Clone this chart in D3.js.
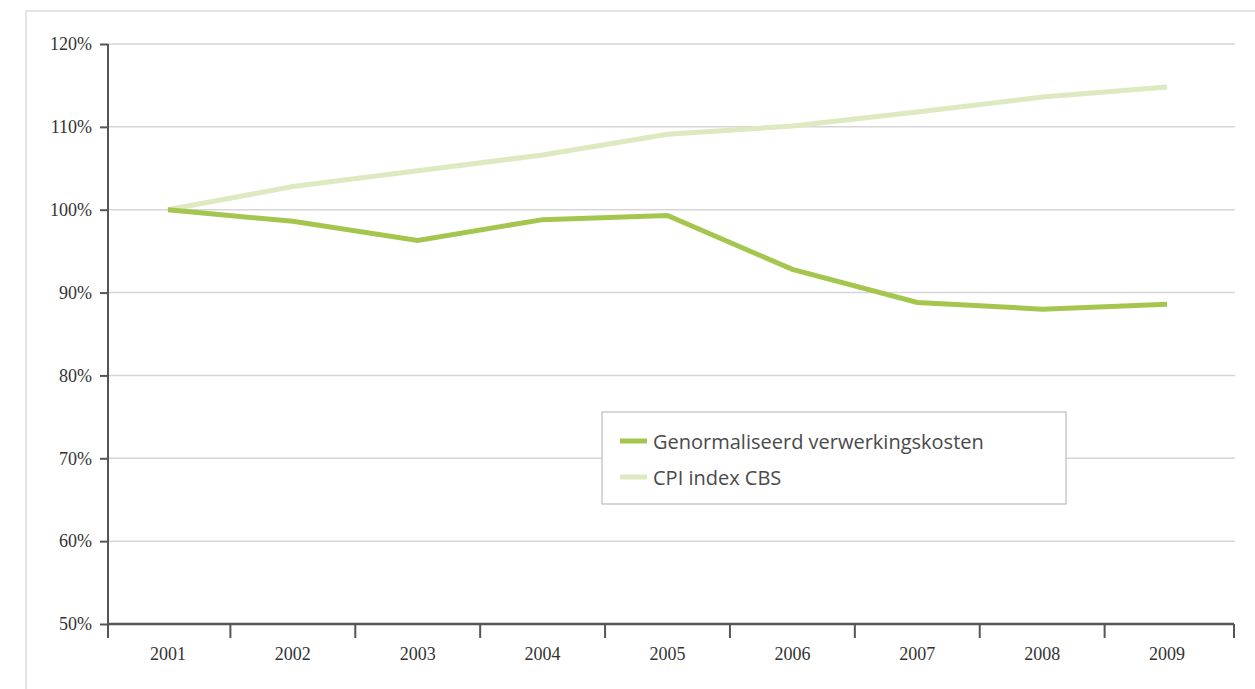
<!DOCTYPE html>
<html>
<head>
<meta charset="utf-8">
<script src="https://cdn.jsdelivr.net/npm/d3@7"></script>
<style>
  html, body { margin: 0; padding: 0; background: #fff; }
  svg { display: block; }
</style>
</head>
<body>
<svg id="chart" width="1255" height="689"></svg>
<script>
// Years on the x axis
const years = ["2001", "2002", "2003", "2004", "2005", "2006", "2007", "2008", "2009"];
// Normalised processing costs, index 2001 = 100%
const verwerkingskosten = [100, 98.6, 96.3, 98.8, 99.3, 92.8, 88.8, 88.0, 88.6];
// CPI index CBS, 2001 = 100%
const cpiIndex = [100, 102.8, 104.7, 106.6, 109.1, 110.1, 111.8, 113.6, 114.8];
// Y tick values (percent)
const yTicks = [50, 60, 70, 80, 90, 100, 110, 120];

const seriesNames = ["Genormaliseerd verwerkingskosten", "CPI index CBS"];
const seriesColors = ["#a5c64e", "#dde9c0"];

const svg = d3.select("#chart");

// Outer frame
svg.append("path")
  .attr("d", "M26,700 L26,11 L1260,11")
  .attr("fill", "none")
  .attr("stroke", "#dcdcdc")
  .attr("stroke-width", 1.5);

const plotLeft = 108, plotRight = 1234, plotTop = 44, plotBottom = 624;

const x = d3.scaleBand().domain(years).range([105.5, 1229.5]);
const y = d3.scaleLinear().domain([50, 120]).range([plotBottom, plotTop]);

// Horizontal gridlines
svg.append("g")
  .selectAll("line")
  .data(yTicks.filter(d => d > 50))
  .join("line")
  .attr("x1", plotLeft)
  .attr("x2", plotRight + 1)
  .attr("y1", d => y(d))
  .attr("y2", d => y(d))
  .attr("stroke", "#d6d6d6")
  .attr("stroke-width", 1.5);

// Y axis
const yAxis = d3.axisLeft(y)
  .tickValues(yTicks)
  .tickSize(8)
  .tickPadding(8)
  .tickFormat(d => d + "%");
const gy = svg.append("g").attr("transform", `translate(${plotLeft},0)`).call(yAxis);
gy.select(".domain").remove();
gy.selectAll(".tick line").attr("stroke", "#555").attr("stroke-width", 2);
gy.selectAll(".tick text")
  .attr("fill", "#333")
  .attr("font-family", "'Liberation Serif', 'DejaVu Serif', serif")
  .attr("font-size", 18)
  .attr("dy", "0.32em");
svg.append("line")
  .attr("x1", plotLeft).attr("x2", plotLeft)
  .attr("y1", plotTop).attr("y2", plotBottom + 14)
  .attr("stroke", "#555").attr("stroke-width", 2);

// X axis: line with ticks between categories and at the end
svg.append("line")
  .attr("x1", plotLeft).attr("x2", plotRight)
  .attr("y1", plotBottom).attr("y2", plotBottom)
  .attr("stroke", "#555").attr("stroke-width", 2.5);
const boundaries = years.slice(1).map(d => x(d)).concat([plotRight]);
svg.append("g")
  .selectAll("line")
  .data(boundaries)
  .join("line")
  .attr("x1", d => d).attr("x2", d => d)
  .attr("y1", plotBottom).attr("y2", plotBottom + 14)
  .attr("stroke", "#555").attr("stroke-width", 2);
svg.append("g")
  .selectAll("text")
  .data(years)
  .join("text")
  .attr("x", d => x(d) + x.bandwidth() / 2)
  .attr("y", plotBottom + 36)
  .attr("text-anchor", "middle")
  .attr("fill", "#333")
  .attr("font-family", "'Liberation Serif', 'DejaVu Serif', serif")
  .attr("font-size", 18)
  .text(d => d);

// Lines
const line = d3.line()
  .x((d, i) => x(years[i]) + x.bandwidth() / 2)
  .y(d => y(d));

svg.append("path")
  .datum(cpiIndex)
  .attr("d", line)
  .attr("fill", "none")
  .attr("stroke", seriesColors[1])
  .attr("stroke-width", 5);

svg.append("path")
  .datum(verwerkingskosten)
  .attr("d", line)
  .attr("fill", "none")
  .attr("stroke", seriesColors[0])
  .attr("stroke-width", 5);

// Legend
const legend = svg.append("g").attr("transform", "translate(602,412)");
legend.append("rect")
  .attr("width", 464).attr("height", 92)
  .attr("fill", "#fff")
  .attr("stroke", "#bdbdbd")
  .attr("stroke-width", 1.2);
seriesNames.forEach((name, i) => {
  const ly = 29 + i * 36;
  legend.append("line")
    .attr("x1", 18).attr("x2", 45)
    .attr("y1", ly).attr("y2", ly)
    .attr("stroke", seriesColors[i])
    .attr("stroke-width", 5);
  legend.append("text")
    .attr("x", 51)
    .attr("y", ly + 8)
    .attr("fill", "#4a4a4a")
    .attr("font-family", "'Open Sans', 'Noto Sans', sans-serif")
    .attr("font-size", 20)
    .text(name);
});
</script>
</body>
</html>
